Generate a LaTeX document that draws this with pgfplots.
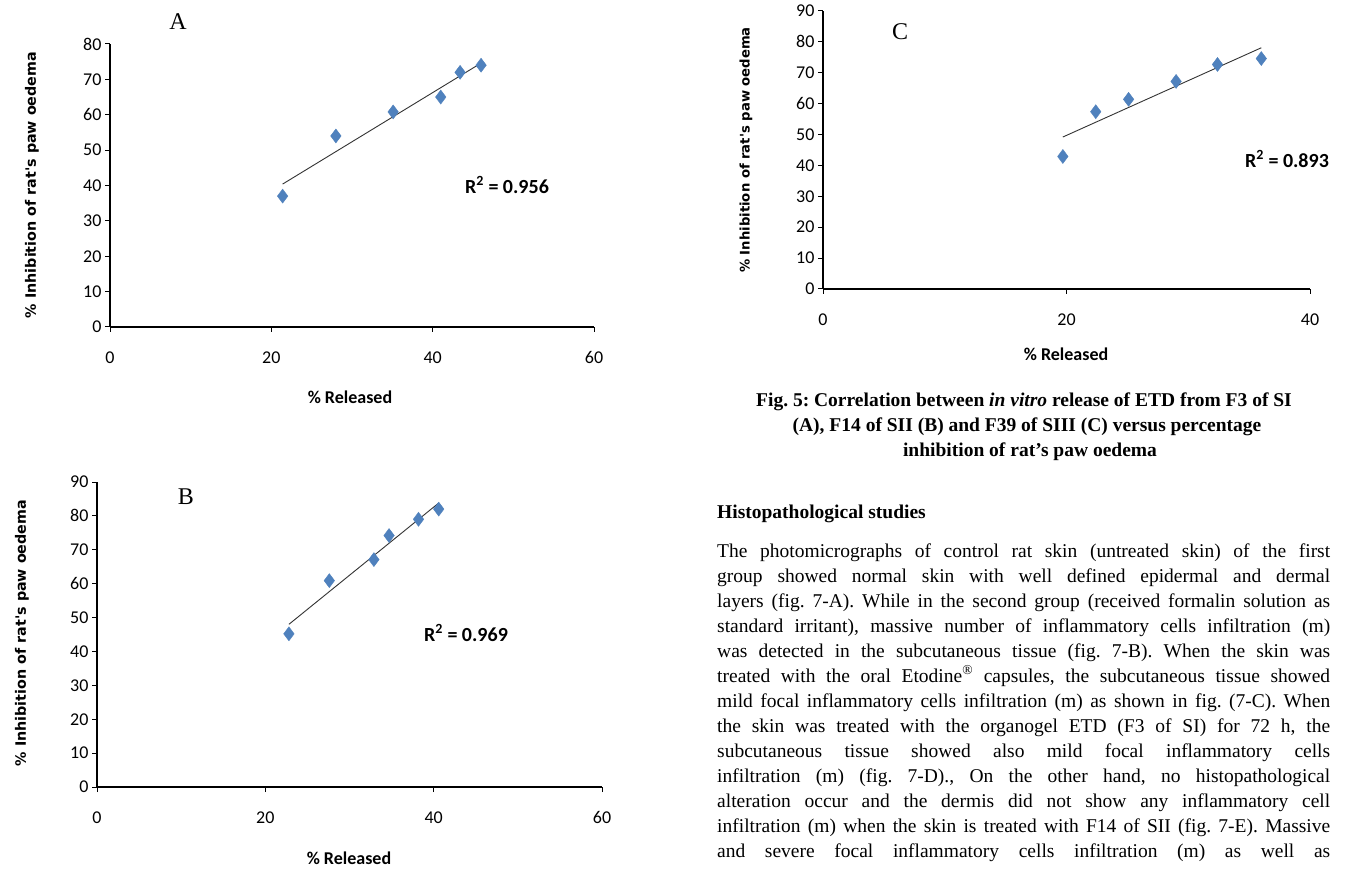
\documentclass[border=0pt]{standalone}
\usepackage{pgfplots}
\pgfplotsset{compat=1.18}
\usepackage{fontspec}
\usepackage{graphicx}
\setmainfont{Liberation Serif}
\newfontfamily\calib{Carlito}
\newfontfamily\dvs{DejaVu Sans}
\definecolor{mkblue}{HTML}{4F81BD}

\newsavebox\lbox
\newcommand\jline[1]{\sbox\lbox{#1}\ifdim\wd\lbox>613pt\relax\resizebox{613pt}{\height}{\usebox\lbox}\else\makebox[613pt][s]{#1}\fi}

\pgfplotsset{
  panel/.style={
    scale only axis,
    axis lines*=left,
    axis line style={black, line width=1.6pt},
    tick style={black, line width=1pt},
    tick align=outside,
    major tick length=5pt,
    xmin=0, ymin=0,
    ticklabel style={font=\calib\fontsize{18}{18}\selectfont},
    /pgf/number format/assume math mode=true,
    xtick distance=20, ytick distance=10,
    x tick label style={yshift=-16pt},
    clip=false,
  },
  pts/.style={only marks, mark=diamond*, mark size=7pt, mark options={fill=mkblue, draw=mkblue}},
  trend/.style={no marks, black!80, line width=0.9pt},
}

\begin{document}
\frenchspacing
\begin{tikzpicture}
\path[fill=white, use as bounding box] (0,0) rectangle (1348pt,868pt);

% ---------------- Panel A ----------------
\begin{axis}[panel, at={(110pt,541pt)}, anchor=south west,
  width=484pt, height=283pt, xmax=60, ymax=80]
\addplot[trend] coordinates {(21.4,40.4) (46.0,74.6)};
\addplot[pts] coordinates {(21.4,37.0) (28.0,54.0) (35.1,60.8) (41.0,65.0) (43.4,72.0) (46.0,74.0)};
\end{axis}

% ---------------- Panel B ----------------
\begin{axis}[panel, at={(97pt,81pt)}, anchor=south west,
  width=505pt, height=305pt, xmax=60, ymax=90]
\addplot[trend] coordinates {(22.8,48.0) (40.6,83.8)};
\addplot[pts] coordinates {(22.8,45.2) (27.6,60.9) (32.9,67.1) (34.7,74.2) (38.2,79.0) (40.6,82.0)};
\end{axis}

% ---------------- Panel C ----------------
\begin{axis}[panel, at={(823pt,579pt)}, anchor=south west,
  width=487pt, height=278pt, xmax=40, ymax=90]
\addplot[trend] coordinates {(19.7,49.2) (36.0,78.1)};
\addplot[pts] coordinates {(19.7,42.9) (22.4,57.4) (25.1,61.4) (29.0,67.2) (32.4,72.7) (36.0,74.6)};
\end{axis}

% axis titles and annotations
\node[rotate=90, font=\dvs\bfseries\fontsize{14.3}{14.3}\selectfont] at (32pt,683pt) {\% Inhibition of rat's paw oedema};
\node[rotate=90, font=\dvs\bfseries\fontsize{14.3}{14.3}\selectfont] at (22pt,235pt) {\% Inhibition of rat's paw oedema};
\node[rotate=90, font=\dvs\bfseries\fontsize{13.2}{13.2}\selectfont] at (746pt,718pt) {\% Inhibition of rat's paw oedema};

\node[font=\calib\bfseries\fontsize{18}{18}\selectfont] at (350pt,471pt) {\% Released};
\node[font=\calib\bfseries\fontsize{18}{18}\selectfont] at (349pt,10pt) {\% Released};
\node[font=\calib\bfseries\fontsize{18}{18}\selectfont] at (1066pt,514pt) {\% Released};

\node[font=\calib\bfseries\fontsize{20}{20}\selectfont] at (507pt,683pt) {R\textsuperscript{2} = 0.956};
\node[font=\calib\bfseries\fontsize{20}{20}\selectfont] at (466pt,235pt) {R\textsuperscript{2} = 0.969};
\node[font=\calib\bfseries\fontsize{20}{20}\selectfont] at (1287pt,709pt) {R\textsuperscript{2} = 0.893};

\node[font=\fontsize{24}{24}\selectfont] at (178pt,846pt) {A};
\node[font=\fontsize{24}{24}\selectfont] at (186pt,371pt) {B};
\node[font=\fontsize{24}{24}\selectfont] at (900pt,836pt) {C};

% caption
\begin{scope}[every node/.style={inner sep=0pt, font=\bfseries\fontsize{19.5}{24}\selectfont}]
\node[anchor=base] at (1024pt,461pt) {Fig. 5: Correlation between \textit{in vitro} release of ETD from F3 of SI};
\node[anchor=base] at (1027pt,436pt) {(A), F14 of SII (B) and F39 of SIII (C) versus percentage};
\node[anchor=base] at (1030pt,411pt) {inhibition of rat’s paw oedema};
\node[anchor=base west] at (717pt,349pt) {Histopathological studies};
\end{scope}

% body text
\begin{scope}[every node/.style={inner sep=0pt, anchor=base west, font=\fontsize{19.5}{24}\selectfont}]
\node at (717pt,311pt) {\jline{The photomicrographs of control rat skin (untreated skin) of the first}};
\node at (717pt,286pt) {\jline{group showed normal skin with well defined epidermal and dermal}};
\node at (717pt,261pt) {\jline{layers (fig. 7-A). While in the second group (received formalin solution as}};
\node at (717pt,236pt) {\jline{standard irritant), massive number of inflammatory cells infiltration (m)}};
\node at (717pt,211pt) {\jline{was detected in the subcutaneous tissue (fig. 7-B). When the skin was}};
\node at (717pt,186pt) {\jline{treated with the oral Etodine\textsuperscript{®} capsules, the subcutaneous tissue showed}};
\node at (717pt,161pt) {\jline{mild focal inflammatory cells infiltration (m) as shown in fig. (7-C). When}};
\node at (717pt,136pt) {\jline{the skin was treated with the organogel ETD (F3 of SI) for 72 h, the}};
\node at (717pt,111pt) {\jline{subcutaneous tissue showed also mild focal inflammatory cells}};
\node at (717pt,86pt) {\jline{infiltration (m) (fig. 7-D)., On the other hand, no histopathological}};
\node at (717pt,61pt) {\jline{alteration occur and the dermis did not show any inflammatory cell}};
\node at (717pt,36pt) {\jline{infiltration (m) when the skin is treated with F14 of SII (fig. 7-E). Massive}};
\node at (717pt,11pt) {\jline{and severe focal inflammatory cells infiltration (m) as well as}};
\end{scope}
\end{tikzpicture}
\end{document}
